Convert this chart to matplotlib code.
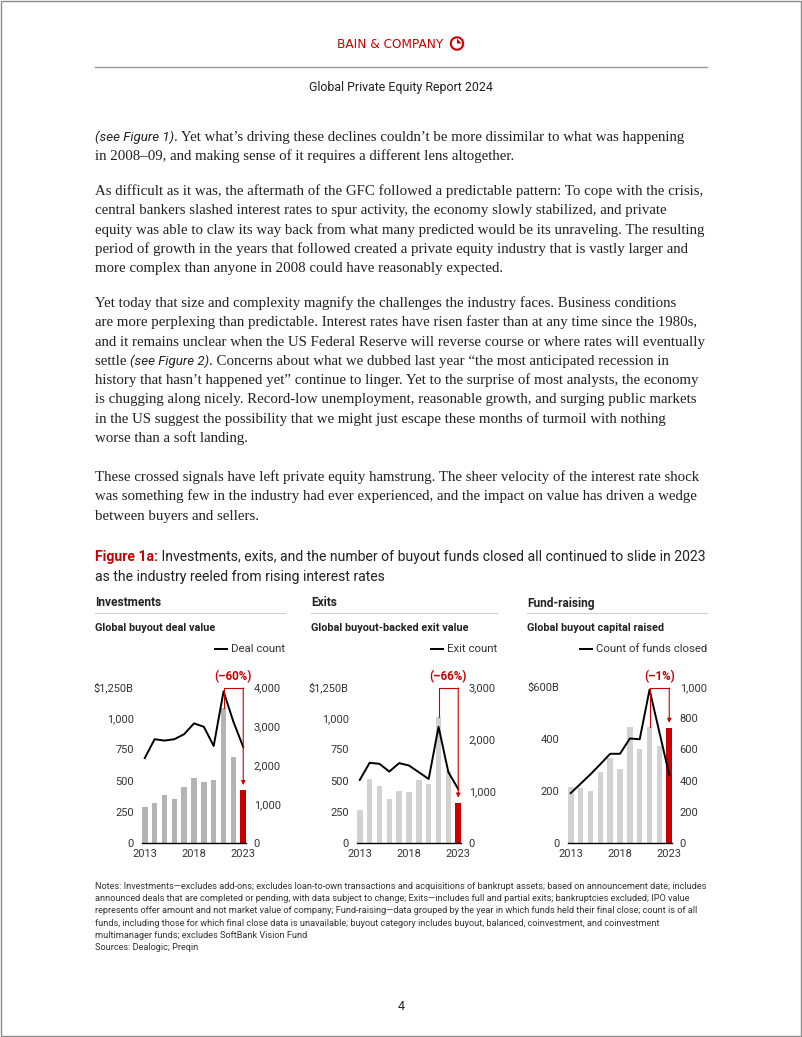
import matplotlib

matplotlib.use("Agg")

import matplotlib.pyplot as plt
import numpy as np
from matplotlib.patches import Circle, Polygon, Rectangle

W, H = 802, 1037
RED = "#cc0000"
INK = "#222222"
CHART_INK = "#333333"
SANS = "Roboto"
SERIF = "Liberation Serif"

# ---- data ------------------------------------------------------------------
years = list(range(2013, 2024))
deal_value = [291, 319, 383, 356, 451, 518, 486, 508, 1080, 688, 424]
deal_count = [2177, 2661, 2626, 2661, 2790, 3067, 2980, 2488, 3888, 3110, 2462]
exit_value = [265, 513, 454, 351, 413, 405, 505, 472, 1007, 580, 324]
exit_count = [1212, 1542, 1523, 1374, 1536, 1490, 1361, 1231, 2235, 1361, 1037]
capital_raised = [214, 210, 200, 275, 327, 283, 447, 360, 447, 373, 443]
funds_closed = [320, 380, 440, 505, 572, 572, 670, 665, 983, 710, 436]

panel_titles = ["Investments", "Exits", "Fund-raising"]
panel_subtitles = ["Global buyout deal value", "Global buyout-backed exit value",
                   "Global buyout capital raised"]
legend_labels = ["Deal count", "Exit count", "Count of funds closed"]
change_labels = ["(–60%)", "(–66%)", "(–1%)"]
left_ticks = [[0, 250, 500, 750, 1000, 1250], [0, 250, 500, 750, 1000, 1250], [0, 200, 400, 600]]
left_ticklabels = [["0", "250", "500", "750", "1,000", "$1,250B"],
                   ["0", "250", "500", "750", "1,000", "$1,250B"],
                   ["0", "200", "400", "$600B"]]
right_ticks = [[0, 1000, 2000, 3000, 4000], [0, 1000, 2000, 3000], [0, 200, 400, 600, 800, 1000]]
right_ticklabels = [["0", "1,000", "2,000", "3,000", "4,000"],
                    ["0", "1,000", "2,000", "3,000"],
                    ["0", "200", "400", "600", "800", "1,000"]]
x_ticks = [2013, 2018, 2023]

paragraphs = [
    ["{(see Figure 1)}. Yet what’s driving these declines couldn’t be more dissimilar to what was happening",
     "in 2008–09, and making sense of it requires a different lens altogether."],
    ["As difficult as it was, the aftermath of the GFC followed a predictable pattern: To cope with the crisis,",
     "central bankers slashed interest rates to spur activity, the economy slowly stabilized, and private",
     "equity was able to claw its way back from what many predicted would be its unraveling. The resulting",
     "period of growth in the years that followed created a private equity industry that is vastly larger and",
     "more complex than anyone in 2008 could have reasonably expected."],
    ["Yet today that size and complexity magnify the challenges the industry faces. Business conditions",
     "are more perplexing than predictable. Interest rates have risen faster than at any time since the 1980s,",
     "and it remains unclear when the US Federal Reserve will reverse course or where rates will eventually",
     "settle {(see Figure 2)}. Concerns about what we dubbed last year “the most anticipated recession in",
     "history that hasn’t happened yet” continue to linger. Yet to the surprise of most analysts, the economy",
     "is chugging along nicely. Record-low unemployment, reasonable growth, and surging public markets",
     "in the US suggest the possibility that we might just escape these months of turmoil with nothing",
     "worse than a soft landing."],
    ["These crossed signals have left private equity hamstrung. The sheer velocity of the interest rate shock",
     "was something few in the industry had ever experienced, and the impact on value has driven a wedge",
     "between buyers and sellers."],
]

caption_lead = "Figure 1a:"
caption_lines = [" Investments, exits, and the number of buyout funds closed all continued to slide in 2023",
                 "as the industry reeled from rising interest rates"]

notes = [
    "Notes: Investments—excludes add-ons; excludes loan-to-own transactions and acquisitions of bankrupt assets; based on announcement date; includes",
    "announced deals that are completed or pending, with data subject to change; Exits—includes full and partial exits; bankruptcies excluded; IPO value",
    "represents offer amount and not market value of company; Fund-raising—data grouped by the year in which funds held their final close; count is of all",
    "funds, including those for which final close data is unavailable; buyout category includes buyout, balanced, coinvestment, and coinvestment",
    "multimanager funds; excludes SoftBank Vision Fund",
    "Sources: Dealogic; Preqin",
]

# ---- page ------------------------------------------------------------------
fig = plt.figure(figsize=(W / 100, H / 100), dpi=100)
pg = fig.add_axes([0, 0, 1, 1])
pg.set_xlim(0, W)
pg.set_ylim(H, 0)
pg.axis("off")
renderer = fig.canvas.get_renderer()


def advance(s, style):
    # width of s including spaces: measure s + "|" minus "|"
    t = pg.text(0, 0, s + "|", **style)
    w1 = t.get_window_extent(renderer).width
    t.remove()
    t = pg.text(0, 0, "|", **style)
    w2 = t.get_window_extent(renderer).width
    t.remove()
    return w1 - w2


def draw_runs(x, y, parts):
    for s, style in parts:
        pg.text(x, y, s, va="baseline", ha="left", **style)
        x += advance(s, style)


pg.add_patch(Rectangle((0.5, 0.5), W - 1.5, H - 1.8, fill=False, ec="#8a8a8a", lw=1.0))

# header
pg.text(390, 44, "BAIN & COMPANY", ha="center", va="center", color=RED,
        family="DejaVu Sans", fontsize=8.7)
pg.add_patch(Circle((457, 43.5), 6.2, fill=False, ec=RED, lw=1.5))
pg.add_patch(Polygon([(457, 43.5), (457, 38.5), (461.5, 43.5)], closed=True, fc=RED, ec="none"))
pg.plot([95, 707], [67, 67], color="#9a9a9a", lw=1.0)
pg.text(401, 87, "Global Private Equity Report 2024", ha="center", va="center",
        family=SANS, fontsize=8.9, color=INK)

# body text
body_style = dict(family=SERIF, fontsize=10.72, color=INK)
ital_style = dict(family=SANS, style="italic", fontsize=9.6, color=INK)
para_tops = [141, 195, 307, 481]
line_gap = 19.3
for top, lines in zip(para_tops, paragraphs):
    for i, line in enumerate(lines):
        parts = []
        for j, chunk in enumerate(line.replace("}", "{").split("{")):
            if chunk:
                parts.append((chunk, ital_style if j % 2 else body_style))
        draw_runs(95, top + i * line_gap, parts)

# figure caption
cap_style = dict(family=SANS, fontsize=10.1, color=INK)
draw_runs(95, 561, [(caption_lead, dict(family=SANS, fontsize=10.1, color=RED, weight="bold")),
                    (caption_lines[0], cap_style)])
draw_runs(95, 581, [(caption_lines[1], cap_style)])

# ---- panels ----------------------------------------------------------------
panel_left = [142, 357, 568]
header_x = [95, 311, 527]
header_right = [285, 497, 707]
bar_colors = ["#b4b4b4", "#d2d2d2", "#d2d2d2"]
bar_series = [deal_value, exit_value, capital_raised]
line_series = [deal_count, exit_count, funds_closed]
ax_top, ax_bot = 687, 843
ax_w = 104
TICK_FS = 7.9

for k in range(3):
    pg.text(header_x[k], 603, panel_titles[k], ha="left", va="center", family=SANS,
            fontsize=8.6, weight="bold", color=INK)
    pg.plot([header_x[k], header_right[k]], [613, 613], color="#d0d0d0", lw=0.8)
    pg.text(header_x[k], 628, panel_subtitles[k], ha="left", va="center", family=SANS,
            fontsize=7.8, weight="bold", color=INK)
    pg.text(header_right[k], 649, legend_labels[k], ha="right", va="center",
            family=SANS, fontsize=8.2, color=CHART_INK)
    tx0 = header_right[k] - advance(legend_labels[k], dict(family=SANS, fontsize=8.2))
    pg.plot([tx0 - 16, tx0 - 4], [649, 649], color="black", lw=1.4)

    ax = fig.add_axes([panel_left[k] / W, 1 - ax_bot / H, ax_w / W, (ax_bot - ax_top) / H])
    vals = bar_series[k]
    colors = [bar_colors[k]] * (len(years) - 1) + [RED]
    ax.bar(years, vals, width=0.56, color=colors, zorder=2)
    ax.set_xlim(2012.72, 2023.28)
    ymax = left_ticks[k][-1]
    ax.set_ylim(0, ymax)
    ax.set_yticks(left_ticks[k])
    ax.set_yticklabels(left_ticklabels[k])
    ax.set_xticks(x_ticks)
    ax.set_xticklabels([str(v) for v in x_ticks])
    ax.tick_params(axis="both", length=0, labelsize=TICK_FS, labelcolor=CHART_INK)
    ax.tick_params(axis="y", pad=6)
    ax.tick_params(axis="x", pad=4.5)
    for lab in ax.get_xticklabels() + ax.get_yticklabels():
        lab.set_family(SANS)
    for side in ["top", "left", "right"]:
        ax.spines[side].set_visible(False)
    ax.spines["bottom"].set_color("black")
    ax.spines["bottom"].set_linewidth(1.0)
    ax.set_facecolor("none")

    ax2 = ax.twinx()
    ax2.plot(years, line_series[k], color="black", lw=1.4, zorder=3)
    rmax = right_ticks[k][-1]
    ax2.set_ylim(0, rmax)
    ax2.set_yticks(right_ticks[k])
    ax2.set_yticklabels(right_ticklabels[k])
    ax2.tick_params(axis="y", length=0, labelsize=TICK_FS, labelcolor=CHART_INK, pad=5.5)
    for lab in ax2.get_yticklabels():
        lab.set_family(SANS)
    for side in ["top", "left", "right", "bottom"]:
        ax2.spines[side].set_visible(False)

    # bracket from 2021 to 2023 with arrow
    px = ymax / (ax_bot - ax_top)  # data units per pixel
    yb = ymax - 1 * px
    sc = rmax / ymax
    x21, x23 = years[-3], years[-1]
    ax2.plot([x21, x21, x23], [vals[-3] * sc, yb * sc, yb * sc],
             color=RED, lw=0.8, clip_on=False, zorder=4)
    ax2.annotate("", xy=(x23, (vals[-1] + 5 * px) * sc), xytext=(x23, yb * sc),
                 arrowprops=dict(arrowstyle="-|>", color=RED, lw=0.8, mutation_scale=6,
                                 shrinkA=0, shrinkB=0),
                 annotation_clip=False, zorder=4)
    ax.text((x21 + x23) / 2, ymax + 10 * px, change_labels[k],
            ha="center", va="center", color=RED, family=SANS, fontsize=8.4, weight="bold",
            clip_on=False)

# notes
for i, line in enumerate(notes):
    pg.text(95, 889 + i * 12.2, line, ha="left", va="baseline", family=SANS,
            fontsize=6.6, color=CHART_INK)

pg.text(401, 1006, "4", ha="center", va="center", family=SANS, fontsize=9, color=INK)

fig.savefig("out.png", dpi=100)
